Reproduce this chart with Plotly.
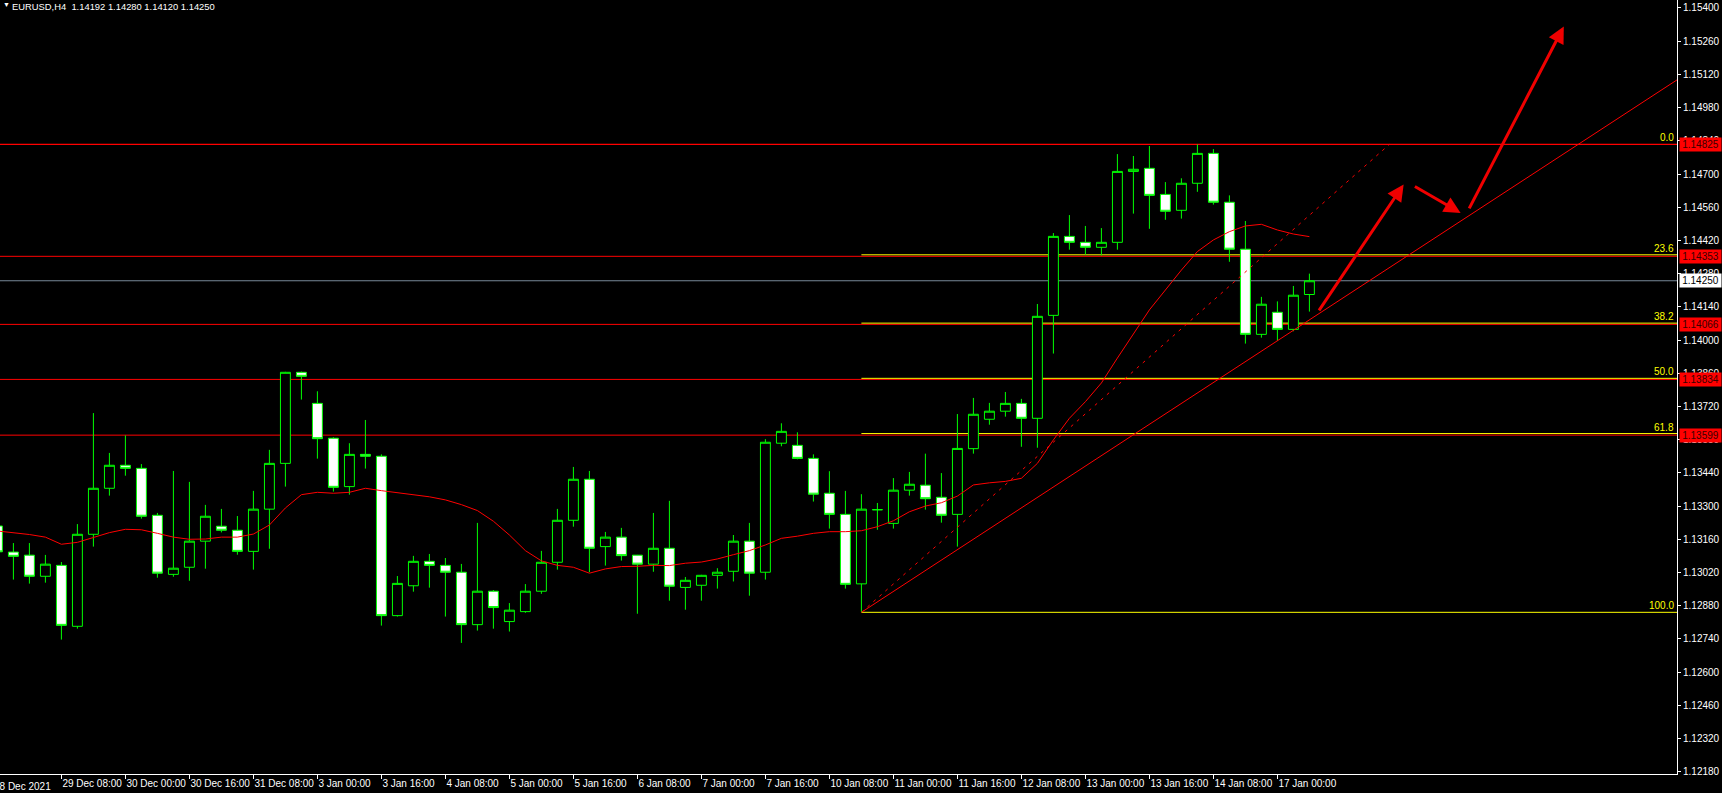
import plotly.graph_objects as go

# ---------------- data ----------------
bar_index = list(range(83))

opens = [1.13216, 1.13106, 1.13093, 1.13004, 1.13050, 1.12793, 1.13181, 1.13375, 1.13472, 1.13459,
         1.13261, 1.13012, 1.13042, 1.13152, 1.13215, 1.13198, 1.13109, 1.13287, 1.13480, 1.13864,
         1.13733, 1.13586, 1.13382, 1.13518, 1.13510, 1.12838, 1.12964, 1.13067, 1.13050, 1.13021,
         1.12800, 1.12941, 1.12813, 1.12855, 1.12941, 1.13063, 1.13240, 1.13413, 1.13129, 1.13169,
         1.13093, 1.13055, 1.13122, 1.12957, 1.12966, 1.13008, 1.13025, 1.13152, 1.13021, 1.13565,
         1.13556, 1.13501, 1.13354, 1.13265, 1.12972, 1.13284, 1.13227, 1.13367, 1.13388, 1.13337,
         1.13265, 1.13542, 1.13666, 1.13700, 1.13733, 1.13670, 1.14104, 1.14437, 1.14412, 1.14391,
         1.14412, 1.14711, 1.14724, 1.14614, 1.14547, 1.14661, 1.14787, 1.14581, 1.14383, 1.14024,
         1.14117, 1.14045, 1.14192]

highs = [1.13233, 1.13144, 1.13144, 1.13094, 1.13064, 1.13224, 1.13692, 1.13524, 1.13598, 1.13477,
         1.13271, 1.13448, 1.13402, 1.13305, 1.13288, 1.13258, 1.13364, 1.13537, 1.13866, 1.13867,
         1.13784, 1.13590, 1.13565, 1.13663, 1.13518, 1.13005, 1.13090, 1.13098, 1.13081, 1.13056,
         1.13229, 1.12946, 1.12891, 1.12971, 1.13111, 1.13288, 1.13465, 1.13448, 1.13191, 1.13208,
         1.13094, 1.13271, 1.13322, 1.13001, 1.13010, 1.13038, 1.13178, 1.13229, 1.13582, 1.13649,
         1.13611, 1.13518, 1.13447, 1.13364, 1.13350, 1.13313, 1.13418, 1.13444, 1.13521, 1.13439,
         1.13688, 1.13756, 1.13735, 1.13781, 1.13752, 1.14152, 1.14451, 1.14527, 1.14481, 1.14472,
         1.14784, 1.14776, 1.14818, 1.14666, 1.14682, 1.14825, 1.14805, 1.14610, 1.14502, 1.14182,
         1.14163, 1.14228, 1.14280]

lows = [1.13090, 1.12990, 1.12973, 1.12977, 1.12737, 1.12783, 1.13129, 1.13344, 1.13428, 1.13247,
        1.12998, 1.13002, 1.12985, 1.13036, 1.13189, 1.13095, 1.13032, 1.13120, 1.13382, 1.13749,
        1.13500, 1.13361, 1.13348, 1.13458, 1.12796, 1.12834, 1.12939, 1.12956, 1.12834, 1.12723,
        1.12775, 1.12783, 1.12771, 1.12850, 1.12930, 1.13032, 1.13213, 1.13021, 1.13049, 1.13070,
        1.12846, 1.13023, 1.12901, 1.12863, 1.12901, 1.12952, 1.12982, 1.12922, 1.12990, 1.13552,
        1.13497, 1.13319, 1.13205, 1.12952, 1.12852, 1.13200, 1.13205, 1.13344, 1.13285, 1.13230,
        1.13129, 1.13521, 1.13643, 1.13677, 1.13550, 1.13546, 1.13943, 1.14381, 1.14360, 1.14357,
        1.14381, 1.14533, 1.14469, 1.14507, 1.14512, 1.14625, 1.14571, 1.14330, 1.13985, 1.14010,
        1.13997, 1.14037, 1.14120]

closes = [1.13107, 1.13088, 1.13004, 1.13055, 1.12797, 1.13181, 1.13375, 1.13472, 1.13459, 1.13257,
          1.13017, 1.13038, 1.13152, 1.13257, 1.13198, 1.13109, 1.13287, 1.13480, 1.13864, 1.13847,
          1.13584, 1.13379, 1.13518, 1.13510, 1.12838, 1.12974, 1.13067, 1.13050, 1.13021, 1.12800,
          1.12941, 1.12872, 1.12861, 1.12941, 1.13063, 1.13240, 1.13413, 1.13122, 1.13169, 1.13091,
          1.13055, 1.13122, 1.12962, 1.12987, 1.13008, 1.13021, 1.13152, 1.13017, 1.13569, 1.13615,
          1.13501, 1.13350, 1.13265, 1.12970, 1.13287, 1.13285, 1.13367, 1.13392, 1.13331, 1.13261,
          1.13543, 1.13687, 1.13700, 1.13733, 1.13670, 1.14100, 1.14437, 1.14412, 1.14391, 1.14412,
          1.14711, 1.14720, 1.14610, 1.14543, 1.14661, 1.14787, 1.14581, 1.14383, 1.14024, 1.14151,
          1.14045, 1.14189, 1.14250]

moving_avg = [1.13195, 1.13189, 1.13180, 1.13169, 1.13139, 1.13147, 1.13167, 1.13188, 1.13202, 1.13200,
              1.13185, 1.13169, 1.13160, 1.13161, 1.13169, 1.13169, 1.13182, 1.13220, 1.13292, 1.13348,
              1.13358, 1.13354, 1.13358, 1.13375, 1.13365, 1.13356, 1.13348, 1.13339, 1.13326, 1.13306,
              1.13281, 1.13236, 1.13178, 1.13112, 1.13069, 1.13050, 1.13042, 1.13017, 1.13035, 1.13045,
              1.13046, 1.13050, 1.13049, 1.13059, 1.13064, 1.13077, 1.13095, 1.13112, 1.13136, 1.13164,
              1.13173, 1.13185, 1.13192, 1.13192, 1.13196, 1.13213, 1.13238, 1.13276, 1.13300, 1.13314,
              1.13342, 1.13389, 1.13398, 1.13404, 1.13417, 1.13480, 1.13579, 1.13670, 1.13740, 1.13819,
              1.13924, 1.14028, 1.14127, 1.14211, 1.14295, 1.14373, 1.14422, 1.14457, 1.14481, 1.14488,
              1.14464, 1.14447, 1.14436]

x_tick_index = [0, 4, 8, 12, 16, 20, 24, 28, 32, 36, 40, 44, 48, 52, 56, 60, 64, 68, 72, 76, 80]
x_tick_text = ["28 Dec 2021", "29 Dec 08:00", "30 Dec 00:00", "30 Dec 16:00", "31 Dec 08:00",
               "3 Jan 00:00", "3 Jan 16:00", "4 Jan 08:00", "5 Jan 00:00", "5 Jan 16:00",
               "6 Jan 08:00", "7 Jan 00:00", "7 Jan 16:00", "10 Jan 08:00", "11 Jan 00:00",
               "11 Jan 16:00", "12 Jan 08:00", "13 Jan 00:00", "13 Jan 16:00", "14 Jan 08:00",
               "17 Jan 00:00"]

y_tick_vals = [1.12180, 1.12320, 1.12460, 1.12600, 1.12740, 1.12880, 1.13020, 1.13160, 1.13300,
               1.13440, 1.13580, 1.13720, 1.13860, 1.14000, 1.14140, 1.14280, 1.14420, 1.14560,
               1.14700, 1.14840, 1.14980, 1.15120, 1.15260, 1.15400]
y_tick_text = ["%.5f" % v for v in y_tick_vals]

# horizontal red price lines and their labels
red_levels = [1.14825, 1.14353, 1.14066, 1.13834, 1.13599]
bid_price = 1.14250

# fibonacci retracement (anchor bars and prices)
fib_x = [54, 87]
fib_price = [1.12852, 1.14825]
fib_ratios = [0.0, 23.6, 38.2, 50.0, 61.8, 100.0]

# trend line anchors (ray to the right)
trend_x = [54, 80]
trend_price = [1.12852, 1.13997]

# hand-drawn arrows (start -> end)
arrow_x0 = [82.54, 88.50, 91.94]
arrow_y0 = [1.14119, 1.14651, 1.14549]
arrow_x1 = [87.89, 91.45, 97.90]
arrow_y1 = [1.14656, 1.14536, 1.15322]

header = "EURUSD,H4\u00a0\u00a01.14192 1.14280 1.14120 1.14250"

# ---------------- figure ----------------
X_MIN, X_MAX = 0.1625, 104.975
Y_MIN, Y_MAX = 1.121703, 1.154337
FONT = "Tahoma, 'Liberation Sans', Arial, sans-serif"

fig = go.Figure()

# moving average
fig.add_trace(go.Scatter(x=bar_index, y=moving_avg, mode="lines",
                         line=dict(color="#FF0000", width=1), hoverinfo="skip"))

# trend line ray
slope = (trend_price[1] - trend_price[0]) / (trend_x[1] - trend_x[0])
fig.add_trace(go.Scatter(x=[trend_x[0], X_MAX],
                         y=[trend_price[0], trend_price[0] + slope * (X_MAX - trend_x[0])],
                         mode="lines", line=dict(color="#FF0000", width=1), hoverinfo="skip"))

# fib diagonal (dashed)
fig.add_trace(go.Scatter(x=fib_x, y=fib_price, mode="lines",
                         line=dict(color="#FF0000", width=1, dash="3px,5px"), hoverinfo="skip"))

# candles
fig.add_trace(go.Candlestick(
    x=bar_index, open=opens, high=highs, low=lows, close=closes,
    increasing=dict(line=dict(color="#00FF00", width=1), fillcolor="#000000"),
    decreasing=dict(line=dict(color="#00FF00", width=1), fillcolor="#FFFFFF"),
    whiskerwidth=0, hoverinfo="skip"))

shapes = []
annotations = []

# fib levels (yellow); the 0.0 level is hidden under the red price line
fib_range = fib_price[1] - fib_price[0]
for r in fib_ratios:
    lvl = fib_price[1] - fib_range * r / 100.0
    if r > 0:
        shapes.append(dict(type="line", xref="x", yref="y", x0=fib_x[0], x1=X_MAX, y0=lvl, y1=lvl,
                           line=dict(color="#FFFF00", width=1), layer="below"))
    annotations.append(dict(xref="paper", yref="y", x=1, y=lvl, xanchor="right", yanchor="bottom",
                            xshift=-1, yshift=-1, text="%.1f" % r, showarrow=False,
                            font=dict(family=FONT, size=10, color="#FFFF00")))

# red horizontal lines
for k, lvl in enumerate(red_levels):
    shapes.append(dict(type="line", xref="paper", yref="y", x0=0, x1=1, y0=lvl, y1=lvl,
                       line=dict(color="#FF0000", width=1.3 if k == 0 else 1), layer="below"))
    annotations.append(dict(xref="paper", yref="y", x=1, y=lvl, xanchor="left", yanchor="middle",
                            xshift=2, text="%.5f" % lvl, showarrow=False, bgcolor="#FF0000",
                            width=39, height=11, borderpad=1, align="center",
                            font=dict(family=FONT, size=10, color="#3A0000")))

# bid line
shapes.append(dict(type="line", xref="paper", yref="y", x0=0, x1=1, y0=bid_price, y1=bid_price,
                   line=dict(color="#778899", width=1), layer="below"))
annotations.append(dict(xref="paper", yref="y", x=1, y=bid_price, xanchor="left", yanchor="middle",
                        xshift=2, text="%.5f" % bid_price, showarrow=False, bgcolor="#FFFFFF",
                        width=39, height=11, borderpad=1, align="center",
                        font=dict(family=FONT, size=10, color="#000000")))

# arrows
for xa, ya, xb, yb in zip(arrow_x0, arrow_y0, arrow_x1, arrow_y1):
    annotations.append(dict(xref="x", yref="y", axref="x", ayref="y", x=xb, y=yb, ax=xa, ay=ya,
                            text="", showarrow=True, arrowhead=2, arrowsize=1.1, arrowwidth=3,
                            arrowcolor="#F00000", standoff=0, startstandoff=0))

# header
annotations.append(dict(xref="paper", yref="paper", x=0, y=1, xanchor="left", yanchor="top",
                        xshift=1, yshift=1, text="\u25BC", showarrow=False,
                        font=dict(family=FONT, size=7, color="#FFFFFF")))
annotations.append(dict(xref="paper", yref="paper", x=0, y=1, xanchor="left", yanchor="top",
                        xshift=10, yshift=1, text=header, showarrow=False,
                        font=dict(family=FONT, size=9.4, color="#FFFFFF")))

# first (partially visible) date label
annotations.append(dict(xref="paper", yref="paper", x=0, y=0, xanchor="left", yanchor="top",
                        xshift=-8, yshift=-5, text=x_tick_text[0], showarrow=False,
                        font=dict(family=FONT, size=10, color="#FFFFFF")))

fig.update_layout(
    width=1722, height=793,
    margin=dict(l=0, r=45, t=0, b=19, pad=0, autoexpand=False),
    paper_bgcolor="#000000", plot_bgcolor="#000000",
    showlegend=False, boxgap=0.38, boxgroupgap=0,
    shapes=shapes, annotations=annotations,
    xaxis=dict(range=[X_MIN, X_MAX], tickvals=x_tick_index, ticktext=x_tick_text,
               ticks="outside", ticklen=4, tickcolor="#FFFFFF", tickwidth=1,
               ticklabelposition="outside right", tickangle=0, automargin=False,
               showline=True, linecolor="#FFFFFF", linewidth=1,
               showgrid=False, zeroline=False, rangeslider=dict(visible=False),
               tickfont=dict(family=FONT, size=10, color="#FFFFFF"), fixedrange=True),
    yaxis=dict(range=[Y_MIN, Y_MAX], side="right", tickvals=y_tick_vals, ticktext=y_tick_text,
               ticks="outside", ticklen=3, tickcolor="#FFFFFF", tickwidth=1, automargin=False,
               showline=True, linecolor="#FFFFFF", linewidth=1,
               showgrid=False, zeroline=False,
               tickfont=dict(family=FONT, size=10, color="#FFFFFF"), fixedrange=True),
)

fig.write_html("out.html", config={"displayModeBar": False},
               post_script="document.body.style.margin='0';document.body.style.overflow='hidden';")
